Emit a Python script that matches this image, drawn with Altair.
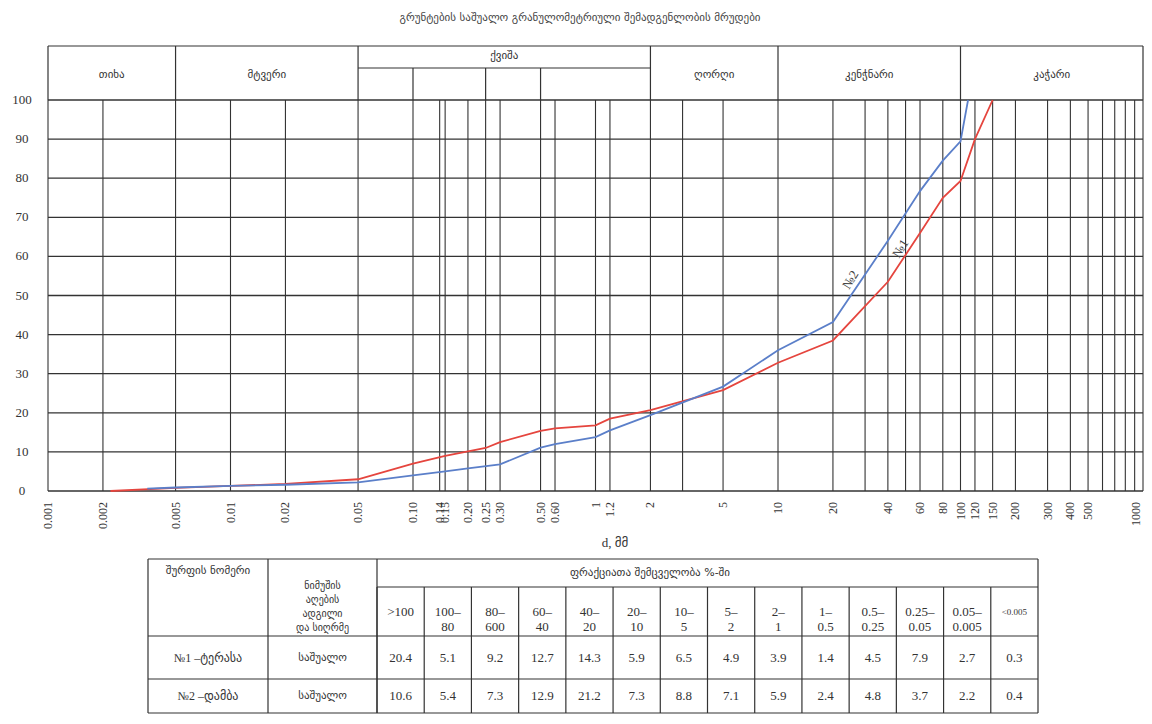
import altair as alt
import pandas as pd

# ---------------- data ----------------
TITLE = "გრუნტების საშუალო გრანულომეტრიული შემადგენლობის მრუდები"
X_TITLE = "d, მმ"

# cumulative curves (percent finer than d, mm)
d_no1 = [0.0022, 0.005, 0.01, 0.02, 0.05, 0.1, 0.15, 0.25, 0.3, 0.5, 0.6, 1, 1.2, 2, 5, 10, 20, 40, 60, 80, 100, 120, 150]
pct_no1 = [0.0, 0.8, 1.3, 1.8, 3.0, 7.0, 9.0, 11.0, 12.5, 15.4, 16.0, 16.8, 18.5, 20.7, 25.8, 32.8, 38.5, 53.5, 66.0, 75.0, 79.3, 90.0, 100.0]
d_no2 = [0.0035, 0.005, 0.01, 0.02, 0.05, 0.1, 0.15, 0.2, 0.3, 0.5, 0.6, 1, 1.2, 2, 5, 10, 20, 40, 60, 80, 100, 110]
pct_no2 = [0.6, 0.9, 1.3, 1.6, 2.2, 4.0, 5.0, 5.8, 6.8, 11.1, 12.0, 13.8, 15.5, 19.4, 26.7, 36.0, 43.2, 64.0, 76.7, 84.5, 89.4, 100.0]
series_names = ["№1", "№2"]
label_d = [47.0, 25.0]
label_pct = [62.0, 54.0]

grid_d = [0.001, 0.002, 0.005, 0.01, 0.02, 0.05, 0.1, 0.14, 0.15, 0.2, 0.25, 0.3, 0.5, 0.6,
          1, 1.2, 2, 3, 5, 10, 20, 30, 40, 50, 60, 80, 100, 120, 150, 200, 300, 400, 500,
          600, 700, 800, 900, 1000]
tick_d = [0.001, 0.002, 0.005, 0.01, 0.02, 0.05, 0.1, 0.14, 0.15, 0.2, 0.25, 0.3, 0.5, 0.6,
          1, 1.2, 2, 5, 10, 20, 40, 60, 80, 100, 120, 150, 200, 300, 400, 500, 1000]
tick_text = ["0.001", "0.002", "0.005", "0.01", "0.02", "0.05", "0.10", "0.14", "0.15", "0.20",
             "0.25", "0.30", "0.50", "0.60", "1", "1.2", "2", "5", "10", "20", "40", "60", "80",
             "100", "120", "150", "200", "300", "400", "500", "1000"]
y_ticks = [0, 10, 20, 30, 40, 50, 60, 70, 80, 90, 100]

zone_names = ["თიხა", "მტვერი", "ქვიშა", "ღორღი", "კენჭნარი", "კაჭარი"]
zone_from = [0.001, 0.005, 0.05, 2, 10, 100]
zone_to = [0.005, 0.05, 2, 10, 100, 1000]
sand_split = [0.1, 0.25, 0.5]

frac_head = [">100", "100–\n80", "80–\n600", "60–\n40", "40–\n20", "20–\n10", "10–\n5", "5–\n2",
             "2–\n1", "1–\n0.5", "0.5–\n0.25", "0.25–\n0.05", "0.05–\n0.005", "<0.005"]
frac_no1 = [20.4, 5.1, 9.2, 12.7, 14.3, 5.9, 6.5, 4.9, 3.9, 1.4, 4.5, 7.9, 2.7, 0.3]
frac_no2 = [10.6, 5.4, 7.3, 12.9, 21.2, 7.3, 8.8, 7.1, 5.9, 2.4, 4.8, 3.7, 2.2, 0.4]
pit_names = ["№1 –ტერასა", "№2 –დამბა"]
sample_place = ["საშუალო", "საშუალო"]
col1_head = "შურფის ნომერი"
col2_head = "ნიმუშის\nაღების\nადგილი\nდა სიღრმე"
frac_title = "ფრაქციათა შემცველობა %-ში"

# ---------------- layout / style ----------------
W, H = 1136, 706
XL, XR = 40, 1135          # plot left / right
YT, YB = 92, 483           # plot top / bottom
HDR_TOP, HDR_MID = 38, 60
TL, TC1, TC2, TR = 140, 260, 369, 1030
T0, T1, T2, T3, T4 = 551, 579, 628, 671, 705

GEO = "DejaVu Sans"
SERIF = "Liberation Serif, DejaVu Sans"
INK = "#333333"
RED = "#e5453e"
BLUE = "#5b7fc9"

XS = alt.Scale(type="log", domain=[0.001, 1000], range=[XL, XR])
YS = alt.Scale(type="linear", domain=[0, 100], range=[YB, YT], nice=False, zero=False)
TX = alt.Scale(type="band", domain=frac_head, range=[TC2, TR], paddingInner=0, paddingOuter=0)

one = pd.DataFrame({"k": [0]})


def seg(x0, x1, y0, y1, w=1.2):
    return alt.Chart(one).mark_rule(color=INK, strokeWidth=w).encode(
        x=alt.value(x0), x2=alt.value(x1), y=alt.value(y0), y2=alt.value(y1))


# ---------------- main plot ----------------
hgrid_df = pd.DataFrame({"p": y_ticks, "lo": 0.001, "hi": 1000})
hgrid = alt.Chart(hgrid_df).mark_rule(color=INK, strokeWidth=1.3).encode(
    x=alt.X("lo:Q", scale=XS, axis=None), x2="hi:Q",
    y=alt.Y("p:Q", scale=YS, axis=None))

vgrid_df = pd.DataFrame({"d": grid_d, "p0": 0, "p1": 100})
vgrid = alt.Chart(vgrid_df).mark_rule(color=INK, strokeWidth=1.1).encode(
    x=alt.X("d:Q", scale=XS, axis=None),
    y=alt.Y("p0:Q", scale=YS, axis=None), y2="p1:Q")

# header band
bounds_df = pd.DataFrame({"d": zone_from + [1000]})
hdr_v = alt.Chart(bounds_df).mark_rule(color=INK, strokeWidth=1.2).encode(
    x=alt.X("d:Q", scale=XS, axis=None), y=alt.value(HDR_TOP), y2=alt.value(YT))
hdr_top_df = pd.DataFrame({"a": [0.001], "b": [1000]})
hdr_top = alt.Chart(hdr_top_df).mark_rule(color=INK, strokeWidth=1.2).encode(
    x=alt.X("a:Q", scale=XS, axis=None), x2="b:Q", y=alt.value(HDR_TOP))
sand_df = pd.DataFrame({"a": [zone_from[2]], "b": [zone_to[2]]})
sand_line = alt.Chart(sand_df).mark_rule(color=INK, strokeWidth=1.2).encode(
    x=alt.X("a:Q", scale=XS, axis=None), x2="b:Q", y=alt.value(HDR_MID))
split_df = pd.DataFrame({"d": sand_split})
sand_v = alt.Chart(split_df).mark_rule(color=INK, strokeWidth=1.2).encode(
    x=alt.X("d:Q", scale=XS, axis=None), y=alt.value(HDR_MID), y2=alt.value(YT))

zone_df = pd.DataFrame({"name": zone_names, "lo": zone_from, "hi": zone_to})
zone_df["mid"] = (zone_df["lo"] * zone_df["hi"]) ** 0.5
zone_main = alt.Chart(zone_df[zone_df["name"] != "ქვიშა"]).mark_text(
    font=GEO, fontSize=11, color=INK, baseline="middle").encode(
    x=alt.X("mid:Q", scale=XS, axis=None), y=alt.value(67), text="name:N")
zone_sand = alt.Chart(zone_df[zone_df["name"] == "ქვიშა"]).mark_text(
    font=GEO, fontSize=11, color=INK, baseline="middle").encode(
    x=alt.X("mid:Q", scale=XS, axis=None), y=alt.value(48), text="name:N")

# curves
curve_df = pd.concat([
    pd.DataFrame({"d": d_no1, "pct": pct_no1, "s": series_names[0]}),
    pd.DataFrame({"d": d_no2, "pct": pct_no2, "s": series_names[1]}),
])
curves = alt.Chart(curve_df).mark_line(strokeWidth=1.8).encode(
    x=alt.X("d:Q", scale=XS, axis=None),
    y=alt.Y("pct:Q", scale=YS, axis=None),
    color=alt.Color("s:N", scale=alt.Scale(domain=series_names, range=[RED, BLUE]), legend=None),
    detail="s:N")

lab_df = pd.DataFrame({"s": series_names, "d": label_d, "pct": label_pct})
curve_labels = alt.Chart(lab_df).mark_text(
    font=SERIF, fontSize=13, color="#444444", angle=302, baseline="middle").encode(
    x=alt.X("d:Q", scale=XS, axis=None), y=alt.Y("pct:Q", scale=YS, axis=None), text="s:N")

# axis labels
ylab_df = pd.DataFrame({"p": y_ticks})
ylabels = alt.Chart(ylab_df).mark_text(
    font=SERIF, fontSize=13, color=INK, align="center", baseline="middle").encode(
    x=alt.value(14), y=alt.Y("p:Q", scale=YS, axis=None), text="p:Q")

xlab_df = pd.DataFrame({"d": tick_d, "t": tick_text})
xlabels = alt.Chart(xlab_df.iloc[:-1]).mark_text(
    font=SERIF, fontSize=12, color=INK, angle=270, align="right", baseline="middle").encode(
    x=alt.X("d:Q", scale=XS, axis=None), y=alt.value(494), text="t:N")
xlabel_last = alt.Chart(xlab_df.iloc[-1:]).mark_text(
    font=SERIF, fontSize=12, color=INK, angle=270, align="right", baseline="bottom").encode(
    x=alt.X("d:Q", scale=XS, axis=None), y=alt.value(494), text="t:N")

xtitle = alt.Chart(pd.DataFrame({"t": [X_TITLE]})).mark_text(
    font=SERIF, fontSize=13, color=INK, baseline="middle").encode(
    x=alt.value(607), y=alt.value(535), text="t:N")

title = alt.Chart(pd.DataFrame({"t": [TITLE]})).mark_text(
    font=GEO, fontSize=11, color="#444444", baseline="middle").encode(
    x=alt.value(572), y=alt.value(10), text="t:N")

main = alt.layer(hgrid, vgrid, hdr_v, hdr_top, sand_line, sand_v, zone_main, zone_sand,
                 curves, curve_labels, xlabels, xlabel_last)

# ---------------- table ----------------
fr_df = pd.DataFrame({"frac": frac_head})
t_vlines = alt.Chart(fr_df).mark_rule(color=INK, strokeWidth=1.2).encode(
    x=alt.X("frac:N", scale=TX, axis=None, bandPosition=0),
    y=alt.value(T1), y2=alt.value(T4))
t_head = alt.Chart(fr_df).mark_text(
    font=SERIF, color=INK, baseline="middle", lineBreak="\n", lineHeight=15).encode(
    x=alt.X("frac:N", scale=TX, axis=None),
    y=alt.value((T1 + T2) / 2),
    text="frac:N",
    size=alt.condition(alt.datum.frac == "<0.005", alt.value(9), alt.value(13)))
r1_df = pd.DataFrame({"frac": frac_head, "v": frac_no1})
r2_df = pd.DataFrame({"frac": frac_head, "v": frac_no2})
t_r1 = alt.Chart(r1_df).mark_text(font=SERIF, fontSize=13, color=INK, baseline="middle").encode(
    x=alt.X("frac:N", scale=TX, axis=None), y=alt.value((T2 + T3) / 2),
    text=alt.Text("v:Q", format=".1f"))
t_r2 = alt.Chart(r2_df).mark_text(font=SERIF, fontSize=13, color=INK, baseline="middle").encode(
    x=alt.X("frac:N", scale=TX, axis=None), y=alt.value((T3 + T4) / 2),
    text=alt.Text("v:Q", format=".1f"))

rowlab_df = pd.DataFrame({"pit": pit_names, "place": sample_place, "row": [0, 1]})
pit1 = alt.Chart(rowlab_df[rowlab_df["row"] == 0]).mark_text(
    font=SERIF, fontSize=12, color=INK, baseline="middle").encode(
    x=alt.value((TL + TC1) / 2), y=alt.value((T2 + T3) / 2), text="pit:N")
pit2 = alt.Chart(rowlab_df[rowlab_df["row"] == 1]).mark_text(
    font=SERIF, fontSize=12, color=INK, baseline="middle").encode(
    x=alt.value((TL + TC1) / 2), y=alt.value((T3 + T4) / 2), text="pit:N")
pl1 = alt.Chart(rowlab_df[rowlab_df["row"] == 0]).mark_text(
    font=GEO, fontSize=11, color=INK, baseline="middle").encode(
    x=alt.value((TC1 + TC2) / 2), y=alt.value((T2 + T3) / 2), text="place:N")
pl2 = alt.Chart(rowlab_df[rowlab_df["row"] == 1]).mark_text(
    font=GEO, fontSize=11, color=INK, baseline="middle").encode(
    x=alt.value((TC1 + TC2) / 2), y=alt.value((T3 + T4) / 2), text="place:N")

c1h = alt.Chart(pd.DataFrame({"t": [col1_head]})).mark_text(
    font=GEO, fontSize=11, color=INK, baseline="middle").encode(
    x=alt.value((TL + TC1) / 2), y=alt.value(563), text="t:N")
c2h = alt.Chart(pd.DataFrame({"t": [col2_head]})).mark_text(
    font=GEO, fontSize=10, color=INK, baseline="middle", lineBreak="\n", lineHeight=14).encode(
    x=alt.value((TC1 + TC2) / 2), y=alt.value(578), text="t:N")
fth = alt.Chart(pd.DataFrame({"t": [frac_title]})).mark_text(
    font=GEO, fontSize=11, color=INK, baseline="middle").encode(
    x=alt.value(642), y=alt.value((T0 + T1) / 2), text="t:N")

table_lines = [
    seg(TL, TR, T0, T0), seg(TC2, TR, T1, T1), seg(TL, TR, T2, T2), seg(TL, TR, T3, T3),
    seg(TL, TR, T4, T4), seg(TL, TL, T0, T4), seg(TC1, TC1, T0, T4), seg(TC2, TC2, T0, T4),
    seg(TR, TR, T0, T4),
]

table = alt.layer(t_vlines, t_head, t_r1, t_r2, *table_lines, pit1, pit2, pl1, pl2, c1h, c2h, fth)

chart = alt.layer(main, ylabels, xtitle, title, table).resolve_scale(
    x="independent", y="independent"
).properties(
    width=W, height=H,
    autosize=alt.AutoSizeParams(type="none"),
    padding=0,
    background="white",
).configure_view(stroke=None)

chart.save("out.html", embed_options={"renderer": "svg", "actions": False})
